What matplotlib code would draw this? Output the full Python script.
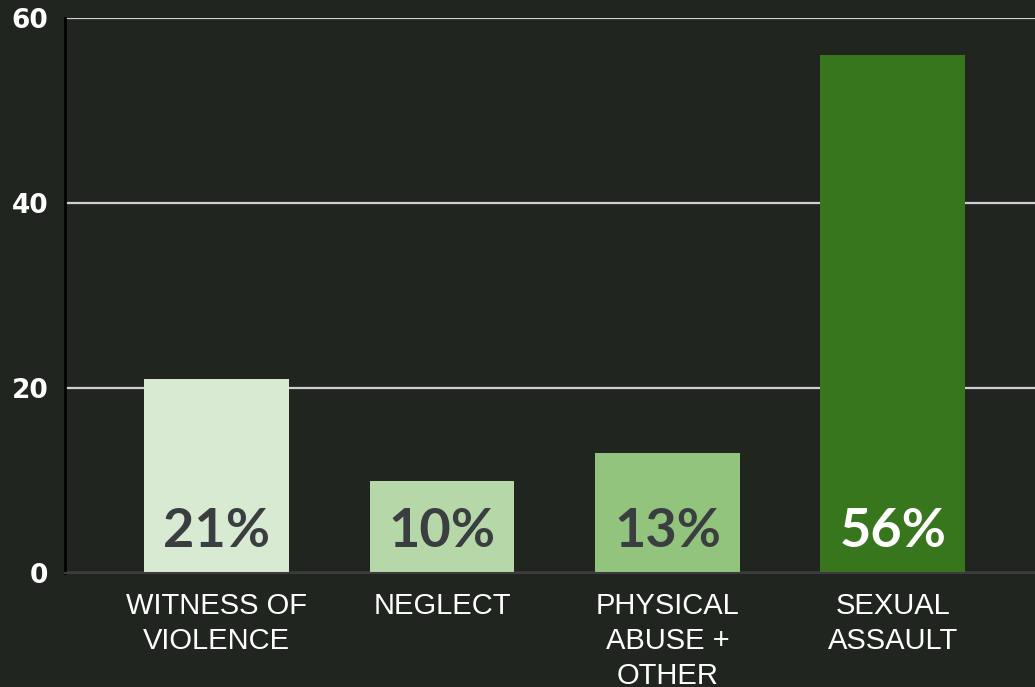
import matplotlib.pyplot as plt

plt.rcParams["font.family"] = ["Liberation Sans", "DejaVu Sans"]

# data
categories = ["WITNESS OF\nVIOLENCE", "NEGLECT", "PHYSICAL\nABUSE +\nOTHER", "SEXUAL\nASSAULT"]
values = [21, 10, 13, 56]
labels = ["21%", "10%", "13%", "56%"]
bar_colors = ["#d9ead3", "#b6d7a8", "#93c47d", "#38761d"]
text_colors = ["#3b3e40", "#3b3e40", "#3b3e40", "#ffffff"]
yticks = [0, 20, 40, 60]

bg = "#212520"

fig = plt.figure(figsize=(10.35, 6.87), dpi=100, facecolor=bg)
ax = fig.add_axes([65 / 1035, 1 - 573 / 687, 970 / 1035, 555 / 687], facecolor=bg)

x = list(range(len(values)))
ax.bar(x, values, width=0.643, color=bar_colors, zorder=3)

# percentage labels inside bars
for xi, lab, tc in zip(x, labels, text_colors):
    ax.text(xi, 4.5, lab, ha="center", va="center", color=tc,
            fontsize=39, fontweight="bold", family=["Lato", "DejaVu Sans"], zorder=4)

ax.set_xlim(-0.672, 3.63)
ax.set_ylim(0, 60)
ax.set_yticks(yticks)
ax.set_yticklabels([str(t) for t in yticks], fontsize=19, fontweight="bold",
                   color="white", family=["DejaVu Sans"])
ax.set_xticks(x)
ax.set_xticklabels(categories, fontsize=21, color="white", linespacing=1.3, va="top")
ax.tick_params(axis="both", length=0)
ax.tick_params(axis="y", pad=12)
ax.tick_params(axis="x", pad=14)

ax.grid(axis="y", color="#d0d0d0", linewidth=1.6, zorder=1)
for s in ["top", "right"]:
    ax.spines[s].set_visible(False)
ax.spines["left"].set_color("black")
ax.spines["left"].set_linewidth(2)
ax.spines["bottom"].set_color("#3c3c3c")
ax.spines["bottom"].set_linewidth(1.5)
ax.spines["bottom"].set_zorder(5)

fig.savefig("out.png", dpi=100, facecolor=bg)
